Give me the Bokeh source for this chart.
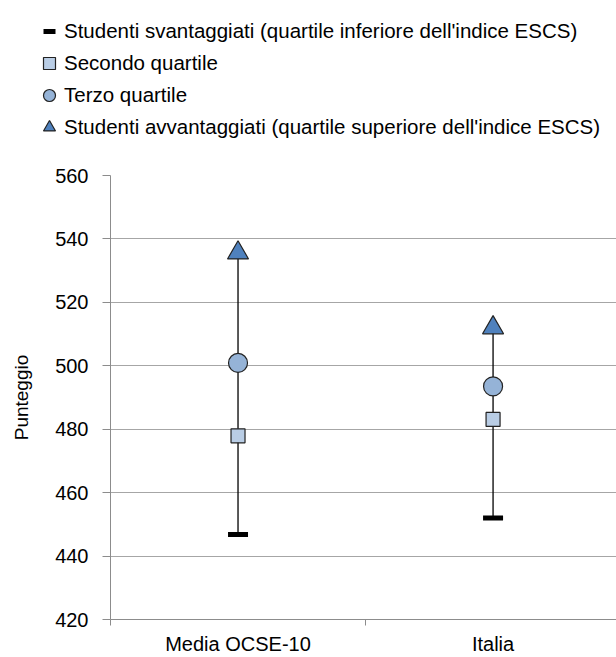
from bokeh.plotting import figure
from bokeh.layouts import column
from bokeh.models import Range1d, FixedTicker, Legend, LegendItem
from bokeh.embed import file_html
from bokeh.resources import INLINE

# ---- data ----
categories = ["Media OCSE-10", "Italia"]
svantaggiati = [446.8, 452.0]      # quartile inferiore ESCS
secondo_quartile = [477.9, 483.1]
terzo_quartile = [500.9, 493.5]
avvantaggiati = [535.6, 512.0]     # quartile superiore ESCS
y_ticks = [420, 440, 460, 480, 500, 520, 540, 560]
legend_labels = [
    "Studenti svantaggiati (quartile inferiore dell'indice ESCS)",
    "Secondo quartile",
    "Terzo quartile",
    "Studenti avvantaggiati (quartile superiore dell'indice ESCS)",
]

FONT = "Liberation Sans, Arial, sans-serif"
AXIS_GRAY = "#8c8c8c"
GRID_GRAY = "#a6a6a6"

xs = list(range(len(categories)))

STYLES = [
    dict(marker="dash", size=20, line_color="black", line_width=5),
    dict(marker="square", size=14, fill_color="#b9cde5", line_color="#222222", line_width=1.2),
    dict(marker="circle", size=19, fill_color="#95b3d7", line_color="#222222", line_width=1.2),
    dict(marker="triangle", size=21, fill_color="#4f81bd", line_color="#222222", line_width=1.2),
]
series = [svantaggiati, secondo_quartile, terzo_quartile, avvantaggiati]

# ---- main chart ----
p = figure(width=616, height=497,
           x_range=Range1d(-0.5, 1.484), y_range=Range1d(420, 560),
           output_backend="svg", toolbar_location=None,
           min_border_left=110, min_border_right=0,
           min_border_top=15, min_border_bottom=38)
p.outline_line_color = None
p.frame_align = False

p.xgrid.visible = False
p.ygrid.ticker = FixedTicker(ticks=y_ticks)
p.ygrid.grid_line_color = GRID_GRAY
p.ygrid.grid_line_width = 1

p.yaxis.ticker = FixedTicker(ticks=y_ticks)
p.yaxis.axis_line_color = AXIS_GRAY
p.yaxis.major_tick_line_color = AXIS_GRAY
p.yaxis.major_tick_out = 8
p.yaxis.major_tick_in = 0
p.yaxis.minor_tick_line_color = None
p.yaxis.major_label_standoff = 14
p.yaxis.major_label_text_font = FONT
p.yaxis.major_label_text_font_size = "20px"
p.yaxis.major_label_text_color = "black"
p.yaxis.axis_label = "Punteggio"
p.yaxis.axis_label_text_font = FONT
p.yaxis.axis_label_text_font_size = "19px"
p.yaxis.axis_label_text_font_style = "normal"
p.yaxis.axis_label_text_color = "black"
p.yaxis.axis_label_standoff = 20

p.xaxis.ticker = FixedTicker(ticks=xs, minor_ticks=[-0.5, 0.5, 1.5])
p.xaxis.major_label_overrides = {i: c for i, c in zip(xs, categories)}
p.xaxis.axis_line_color = AXIS_GRAY
p.xaxis.major_tick_line_color = None
p.xaxis.major_tick_out = 0
p.xaxis.major_tick_in = 0
p.xaxis.minor_tick_line_color = AXIS_GRAY
p.xaxis.minor_tick_out = 6
p.xaxis.minor_tick_in = 0
p.xaxis.major_label_standoff = 7
p.xaxis.major_label_text_font = FONT
p.xaxis.major_label_text_font_size = "20px"
p.xaxis.major_label_text_color = "black"

p.segment(x0=xs, y0=svantaggiati, x1=xs, y1=avvantaggiati,
          line_color="black", line_width=1.3)
for vals, st in zip(series, STYLES):
    p.scatter(xs, vals, **st)

# ---- legend (own strip above the chart) ----
lg = figure(width=616, height=160, x_range=Range1d(0, 1), y_range=Range1d(0, 1),
            output_backend="svg", toolbar_location=None,
            x_axis_location=None, y_axis_location=None,
            min_border=0)
lg.outline_line_color = None
lg.grid.visible = False
lg.frame_align = False
leg_renderers = []
for vals, st in zip(series, STYLES):
    # same series, outside this strip's visible range: only the legend shows them
    leg_renderers.append(lg.scatter(xs, vals, **st))

legend = Legend(
    items=[LegendItem(label=lbl, renderers=[r])
           for lbl, r in zip(legend_labels, leg_renderers)],
    location=(34, 18),
    orientation="vertical",
    glyph_width=30, glyph_height=30, spacing=2, padding=0, margin=0,
    label_standoff=0, label_height=30,
    border_line_color=None, background_fill_alpha=0,
    label_text_font=FONT, label_text_font_size="20.5px",
    label_text_color="black",
)
lg.add_layout(legend)

layout = column(lg, p, spacing=0)
open("out.html", "w").write(file_html(layout, INLINE))
